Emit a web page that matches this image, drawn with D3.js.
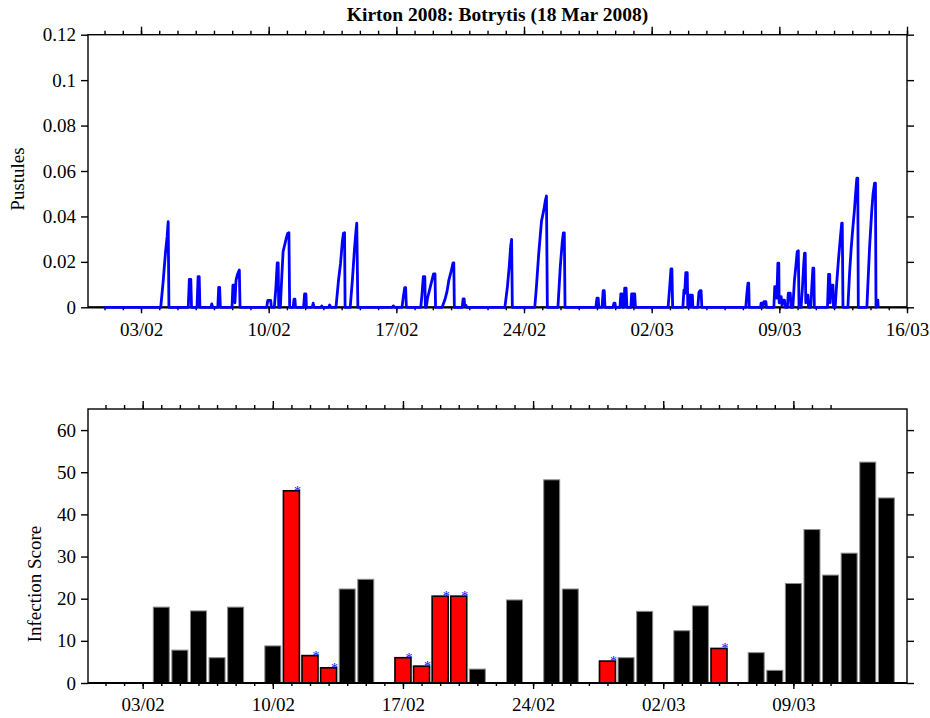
<!DOCTYPE html>
<html>
<head>
<meta charset="utf-8">
<script src="https://cdn.jsdelivr.net/npm/d3@7"></script>
<style>
  body { margin: 0; background: #fff; }
</style>
</head>
<body>
<svg id="chart" width="930" height="718"></svg>
<script>
// ---- data ----------------------------------------------------------------
const chartTitle = "Kirton 2008: Botrytis (18 Mar 2008)";
const pustuleLabel = "Pustules";
const scoreLabel = "Infection Score";

const pustuleTicks = [0, 0.02, 0.04, 0.06, 0.08, 0.1, 0.12];
const pustuleTickLabels = ["0", "0.02", "0.04", "0.06", "0.08", "0.1", "0.12"];
const scoreTicks = [0, 10, 20, 30, 40, 50, 60];
const scoreTickLabels = ["0", "10", "20", "30", "40", "50", "60"];
const topWeekLabels = ["03/02", "10/02", "17/02", "24/02", "02/03", "09/03", "16/03"];
const bottomWeekLabels = ["03/02", "10/02", "17/02", "24/02", "02/03", "09/03"];

// Modelled pustule density: [days since 31 Jan 2008 00:00 UTC, pustules]
const pustules = [
  [1.00,0],
  [4.08,0],[4.21,0.011],[4.34,0.024],[4.43,0.031],[4.49,0.0377],[4.53,0],
  [5.59,0],[5.65,0.0123],[5.73,0.0123],[5.77,0],
  [6.07,0],[6.13,0.0135],[6.19,0.0135],[6.23,0],
  [6.84,0],[6.88,0.0015],[6.93,0],
  [7.21,0],[7.26,0.0088],[7.31,0.0088],[7.35,0],
  [7.99,0],[8.04,0.0098],[8.12,0.0098],[8.15,0.002],[8.21,0.012],[8.29,0.0145],[8.39,0.0164],[8.43,0],
  [9.89,0],[9.95,0.003],[10.11,0.003],[10.15,0],
  [10.31,0],[10.39,0.008],[10.47,0.0196],[10.52,0.0196],[10.55,0],[10.64,0],[10.71,0.012],[10.79,0.0245],
  [10.87,0.0272],[10.96,0.0302],[11.04,0.0325],[11.11,0.0328],[11.15,0],
  [11.34,0],[11.39,0.0036],[11.44,0.0036],[11.47,0],
  [11.91,0],[11.97,0.0059],[12.04,0.0059],[12.07,0],
  [12.39,0],[12.44,0.0018],[12.49,0],
  [12.87,0],[12.91,0.0006],[12.95,0],
  [13.29,0],[13.34,0.001],[13.41,0],
  [13.69,0],[13.83,0.012],[13.94,0.0193],[14.04,0.029],[14.10,0.0326],[14.16,0.0328],[14.19,0],
  [14.47,0],[14.59,0.012],[14.70,0.0252],[14.79,0.034],[14.83,0.037],[14.89,0],
  [16.77,0],[16.83,0.0006],[16.92,0],
  [17.31,0],[17.39,0.005],[17.46,0.0086],[17.51,0.0086],[17.55,0],
  [18.34,0],[18.41,0.006],[18.48,0.0135],[18.56,0.0135],[18.59,0],[18.64,0],[18.71,0.004],[18.81,0.0073],
  [18.94,0.0115],[19.04,0.0147],[19.12,0.0147],[19.15,0],
  [19.51,0],[19.66,0.0033],[19.78,0.007],[19.88,0.012],[20.01,0.016],[20.11,0.0196],[20.15,0.0196],[20.18,0],
  [20.61,0],[20.66,0.0037],[20.72,0.0037],[20.74,0.001],[20.81,0.001],[20.86,0],
  [22.95,0],[23.09,0.009],[23.19,0.018],[23.27,0.027],[23.32,0.0299],[23.36,0],
  [24.59,0],[24.68,0.009],[24.81,0.024],[24.96,0.038],[25.09,0.043],[25.17,0.047],[25.23,0.049],[25.28,0],
  [25.86,0],[25.99,0.018],[26.10,0.029],[26.16,0.0328],[26.21,0.0328],[26.25,0],
  [27.94,0],[28.00,0.004],[28.07,0.004],[28.10,0],
  [28.28,0],[28.34,0.0073],[28.40,0.0073],[28.44,0],
  [28.88,0],[28.93,0.0018],[28.99,0.0018],[29.02,0],
  [29.26,0],[29.31,0.0059],[29.37,0.0059],[29.40,0],
  [29.48,0],[29.52,0.0084],[29.60,0.0084],[29.64,0],
  [29.86,0],[29.90,0.0059],[29.97,0.0059],[29.99,0.001],[30.02,0.0059],[30.07,0.0059],[30.11,0],
  [31.90,0],[31.98,0.008],[32.06,0.0169],[32.11,0.0169],[32.15,0],
  [32.71,0],[32.77,0.0076],[32.81,0.006],[32.87,0.0152],[32.95,0.0152],[32.98,0],
  [33.03,0],[33.06,0.0054],[33.11,0.0054],[33.13,0],[33.16,0.0054],[33.23,0.0054],[33.26,0],
  [33.53,0],[33.59,0.0065],[33.65,0.0073],[33.71,0.0073],[33.75,0],
  [36.16,0],[36.22,0.006],[36.28,0.0106],[36.32,0.0106],[36.35,0],
  [36.97,0],[37.00,0.0018],[37.07,0.0018],[37.10,0],[37.16,0.0025],[37.26,0.0025],[37.30,0],
  [37.70,0],[37.75,0.0091],[37.82,0.0091],[37.86,0.004],[37.92,0.0194],[37.97,0.0194],[37.99,0.002],
  [38.04,0.0047],[38.10,0.0047],[38.14,0.001],[38.20,0.0032],[38.28,0.0032],[38.32,0],
  [38.44,0],[38.49,0.0062],[38.60,0.0062],[38.64,0],
  [38.74,0],[38.83,0.012],[38.90,0.0176],[38.98,0.0245],[39.04,0.0249],[39.08,0],
  [39.19,0],[39.27,0.009],[39.33,0.018],[39.38,0.0238],[39.42,0.0238],[39.45,0.002],
  [39.47,0.0054],[39.57,0.0054],[39.60,0],
  [39.72,0],[39.78,0.009],[39.84,0.0172],[39.89,0.0172],[39.92,0],
  [40.64,0],[40.70,0.0145],[40.76,0.0145],[40.79,0.002],[40.83,0.0098],[40.94,0.0098],[40.97,0],
  [41.06,0],[41.14,0.01],[41.24,0.0208],[41.34,0.03],[41.42,0.037],[41.45,0.037],[41.49,0],
  [41.76,0],[41.85,0.015],[41.94,0.026],[42.02,0.034],[42.12,0.043],[42.20,0.052],[42.25,0.0568],[42.30,0.0568],[42.33,0],
  [42.80,0],[42.85,0.009],[42.95,0.0267],[43.07,0.0428],[43.14,0.05],[43.22,0.0546],[43.27,0.0546],[43.30,0],
  [43.33,0.0032],[43.40,0.0032],[43.42,0]
];

// Daily infection score; flagged days carry a spray warning
const scoreDays = ["04/02","05/02","06/02","07/02","08/02","10/02","11/02","12/02","13/02","14/02","15/02",
  "17/02","18/02","19/02","20/02","21/02","23/02","25/02","26/02","28/02","29/02","01/03",
  "03/03","04/03","05/03","07/03","08/03","09/03","10/03","11/03","12/03","13/03","14/03"];
const scoreValues = [18.0,7.8,17.1,6.0,18.0,8.8,45.6,6.5,3.6,22.3,24.6,
  6.0,4.0,20.6,20.6,3.3,19.7,48.2,22.3,5.2,6.0,17.0,
  12.4,18.3,8.2,7.2,3.0,23.6,36.4,25.6,30.8,52.4,43.9];
const scoreFlagged = [0,0,0,0,0,0,1,1,1,0,0,
  1,1,1,1,0,0,0,0,1,0,0,
  0,0,1,0,0,0,0,0,0,0,0];

// ---- setup ---------------------------------------------------------------
const FONT = "'Liberation Serif','Times New Roman',Times,serif";
const FS = 19;
const DAY = 864e5;
const origin = Date.UTC(2008, 0, 31);
const parseDay = s => d3.utcParse("%d/%m/%Y")(s + "/2008");

const svg = d3.select("#chart");

const topBox = { left: 88, right: 907, top: 34.7, bottom: 307.3 };
const botBox = { left: 88, right: 907, top: 409, bottom: 683 };

const xTop = d3.scaleUtc()
  .domain([new Date(Date.UTC(2008, 0, 31, 2, 14)), new Date(Date.UTC(2008, 2, 16))])
  .range([topBox.left, topBox.right]);
const yTop = d3.scaleLinear().domain([0, 0.12]).range([topBox.bottom, topBox.top]);

const xBot = d3.scaleUtc()
  .domain([new Date(Date.UTC(2008, 0, 31, 1, 25)), new Date(Date.UTC(2008, 2, 15, 2, 40))])
  .range([botBox.left, botBox.right]);
const yBot = d3.scaleLinear().domain([0, 65]).range([botBox.bottom, botBox.top]);

function styleAxis(g) {
  g.select(".domain").remove();
  g.attr("font-family", FONT).attr("font-size", FS);
  g.selectAll("line").attr("stroke", "#000").attr("stroke-width", 1.4);
  g.selectAll("text").attr("fill", "#000");
}

function drawPanel(box, x, y, dayTicks, weekTicks, weekLabels, yTicks, yLabels) {
  const g = svg.append("g");
  // minor (daily) and major (weekly) ticks, bottom edge
  g.append("g").attr("transform", `translate(0,${box.bottom})`)
    .call(d3.axisBottom(x).tickValues(dayTicks).tickSize(3).tickFormat(""))
    .call(styleAxis);
  g.append("g").attr("transform", `translate(0,${box.bottom})`)
    .call(d3.axisBottom(x).tickValues(weekTicks).tickSize(6).tickPadding(9)
      .tickFormat((d, i) => weekLabels[i]))
    .call(styleAxis);
  // top edge
  g.append("g").attr("transform", `translate(0,${box.top})`)
    .call(d3.axisTop(x).tickValues(dayTicks).tickSize(4).tickFormat(""))
    .call(styleAxis);
  g.append("g").attr("transform", `translate(0,${box.top})`)
    .call(d3.axisTop(x).tickValues(weekTicks).tickSize(8).tickFormat(""))
    .call(styleAxis);
  // y axes
  g.append("g").attr("transform", `translate(${box.left},0)`)
    .call(d3.axisLeft(y).tickValues(yTicks).tickSize(7).tickPadding(5)
      .tickFormat((d, i) => yLabels[i]))
    .call(styleAxis);
  g.append("g").attr("transform", `translate(${box.right},0)`)
    .call(d3.axisRight(y).tickValues(yTicks).tickSize(7).tickFormat(""))
    .call(styleAxis);
  // frame
  g.append("rect")
    .attr("x", box.left).attr("y", box.top)
    .attr("width", box.right - box.left).attr("height", box.bottom - box.top)
    .attr("fill", "none").attr("stroke", "#000").attr("stroke-width", 1.4);
  g.append("line")
    .attr("x1", box.left).attr("x2", box.right)
    .attr("y1", box.bottom).attr("y2", box.bottom)
    .attr("stroke", "#000").attr("stroke-width", 2.2);
  return g;
}

// ---- top panel: pustules --------------------------------------------------
const topDays = d3.utcDay.range(new Date(Date.UTC(2008, 1, 1)), new Date(Date.UTC(2008, 2, 17)));
drawPanel(topBox, xTop, yTop, topDays, topWeekLabels.map(parseDay), topWeekLabels,
  pustuleTicks, pustuleTickLabels);

const line = d3.line()
  .x(d => xTop(new Date(origin + d[0] * DAY)))
  .y(d => yTop(d[1]));
svg.append("path")
  .datum(pustules)
  .attr("d", line)
  .attr("fill", "none")
  .attr("stroke", "#0000ff")
  .attr("stroke-width", 2.8)
  .attr("stroke-linejoin", "round");

// ---- bottom panel: infection score ----------------------------------------
const botDays = d3.utcDay.range(new Date(Date.UTC(2008, 1, 1)), new Date(Date.UTC(2008, 2, 12)));
const bars = svg.append("g");
const scores = scoreDays.map((s, i) => ({ date: parseDay(s), value: scoreValues[i], flagged: !!scoreFlagged[i] }));
const half = 0.43 * DAY;

bars.selectAll("rect")
  .data(scores)
  .join("rect")
  .attr("x", d => xBot(new Date(+d.date - half)))
  .attr("width", d => xBot(new Date(+d.date + half)) - xBot(new Date(+d.date - half)))
  .attr("y", d => yBot(d.value))
  .attr("height", d => yBot(0) - yBot(d.value))
  .attr("fill", d => d.flagged ? "#ff0000" : "#000")
  .attr("stroke", d => d.flagged ? "#000" : "#8a8a8a")
  .attr("stroke-width", d => d.flagged ? 1.6 : 1);

bars.selectAll("text")
  .data(scores.filter(d => d.flagged))
  .join("text")
  .attr("x", d => xBot(new Date(+d.date + half)) - 2)
  .attr("y", d => yBot(d.value) + 5)
  .attr("text-anchor", "middle")
  .attr("font-family", FONT)
  .attr("font-size", 14)
  .attr("fill", "#0000ff")
  .text("*");

drawPanel(botBox, xBot, yBot, botDays, bottomWeekLabels.map(parseDay), bottomWeekLabels,
  scoreTicks, scoreTickLabels);

// ---- titles ---------------------------------------------------------------
svg.append("text")
  .attr("x", (topBox.left + topBox.right) / 2).attr("y", 21)
  .attr("text-anchor", "middle")
  .attr("font-family", FONT).attr("font-size", 19.5).attr("font-weight", "bold")
  .text(chartTitle);

svg.append("text")
  .attr("transform", `translate(24,${(topBox.top + topBox.bottom) / 2 + 8}) rotate(-90)`)
  .attr("text-anchor", "middle")
  .attr("font-family", FONT).attr("font-size", FS)
  .text(pustuleLabel);

svg.append("text")
  .attr("transform", `translate(41,${(botBox.top + botBox.bottom) / 2 + 38}) rotate(-90)`)
  .attr("text-anchor", "middle")
  .attr("font-family", FONT).attr("font-size", FS)
  .text(scoreLabel);
</script>
</body>
</html>
